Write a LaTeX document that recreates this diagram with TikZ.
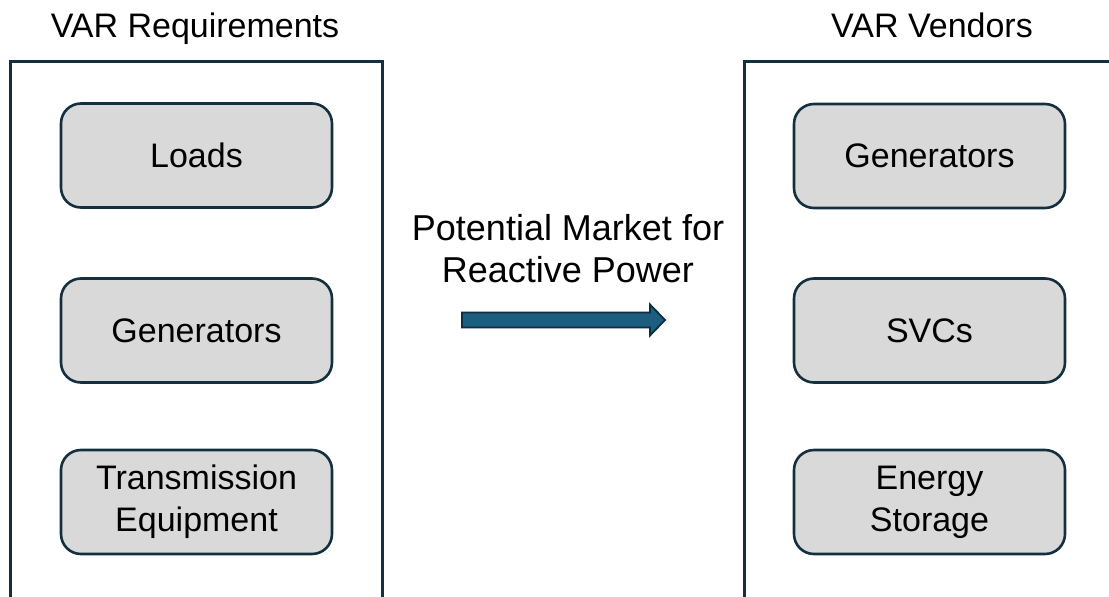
\documentclass[tikz,border=0pt]{standalone}
\usepackage{fontspec}
\setmainfont{Liberation Sans}
\definecolor{frame}{HTML}{14303F}
\definecolor{boxfill}{HTML}{D9D9D9}
\definecolor{arrowfill}{HTML}{1B5E80}
\definecolor{arrowline}{HTML}{0F2D3F}
\tikzset{
  container/.style={draw=frame, line width=3pt},
  itembox/.style={draw=frame, fill=boxfill, line width=2.6pt, rounded corners=20pt,
    minimum width=271pt, minimum height=104pt, align=center,
    font=\fontsize{34}{42}\selectfont, inner sep=0pt},
  title/.style={font=\fontsize{34}{40}\selectfont, anchor=base, inner sep=0pt},
  midlabel/.style={font=\fontsize{36}{42}\selectfont, align=center, inner sep=0pt},
  bigarrow/.style={fill=arrowfill, draw=arrowline, line width=1.8pt, line join=miter}
}
\begin{document}
\begin{tikzpicture}[x=1pt, y=-1pt]
  \useasboundingbox (0,0) rectangle (1109,597);

  % the two open-bottomed containers
  \draw[container] (10,600) -- (10,61) -- (382,61) -- (382,600);
  \draw[container] (744,600) -- (744,61) -- (1112,61);

  % headings
  \node[title] (reqtitle) at (195,37) {VAR Requirements};
  \node[title] (vendtitle) at (932,37) {VAR Vendors};

  % requirement items
  \node[itembox] (loads) at (196.5,155.5) {Loads};
  \node[itembox] (gena) at (196.5,330.5) {Generators};
  \node[itembox] (trans) at (196.5,502) {Transmission\\Equipment};

  % vendor items
  \node[itembox] (genb) at (929.5,156) {Generators};
  \node[itembox] (svc) at (929.5,330.5) {SVCs};
  \node[itembox] (store) at (929.5,502) {Energy\\Storage};

  % market label and block arrow
  \node[midlabel] (market) at (568,249) {Potential Market for\\Reactive Power};
  \path[bigarrow] (462,312.5) -- (650,312.5) -- (650,304.5) -- (665,320) -- (650,335.5)
    -- (650,327.5) -- (462,327.5) -- cycle;
\end{tikzpicture}
\end{document}
